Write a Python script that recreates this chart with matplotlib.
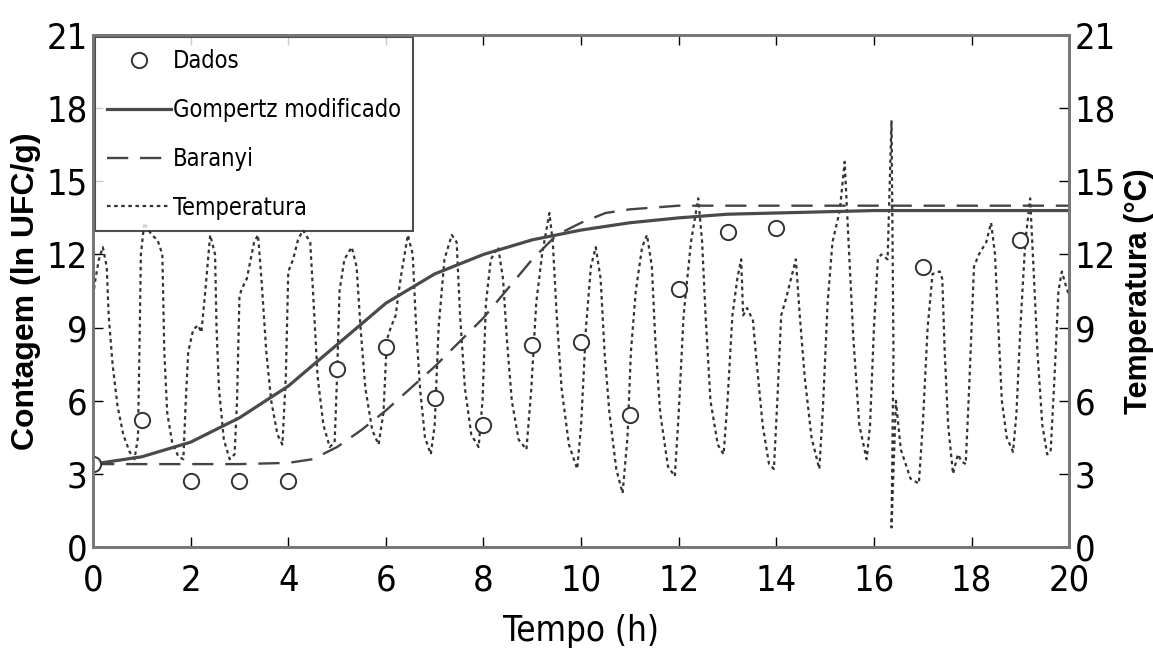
import numpy as np
import matplotlib
matplotlib.use("Agg")
import matplotlib.pyplot as plt

# Crescimento microbiano sob temperatura variável

# dados experimentais
t_dados = [0, 1, 2, 3, 4, 5, 6, 7, 8, 9, 10, 11, 12, 13, 14, 17, 19]
y_dados = [3.4, 5.2, 2.7, 2.7, 2.7, 7.3, 8.2, 6.1, 5.0, 8.3, 8.4, 5.4, 10.6, 12.9, 13.1, 11.5, 12.6]

# Gompertz modificado
t_gomp = [0, 1, 2, 3, 4, 5, 6, 7, 8, 9, 10, 11, 12, 13, 14, 15, 16, 17, 18, 19, 20]
y_gomp = [3.4, 3.7, 4.3, 5.3, 6.6, 8.3, 10.0, 11.2, 12.0, 12.6, 13.0, 13.3, 13.5, 13.65,
          13.7, 13.75, 13.8, 13.8, 13.8, 13.8, 13.8]

# Baranyi
t_bar = [0, 1, 2, 3, 4, 4.5, 5, 5.5, 6, 6.5, 7, 7.5, 8, 8.5, 9, 9.5, 10, 10.5, 11, 12,
         13, 14, 15, 16, 17, 18, 19, 20]
y_bar = [3.4, 3.4, 3.4, 3.4, 3.45, 3.6, 4.1, 4.8, 5.6, 6.5, 7.4, 8.4, 9.4, 10.6, 11.8,
         12.8, 13.3, 13.7, 13.85, 14.0, 14.0, 14.0, 14.0, 14.0, 14.0, 14.0, 14.0, 14.0]

# temperatura registrada
t_temp = [0.00, 0.05, 0.12, 0.20, 0.28, 0.32, 0.40, 0.50, 0.62, 0.75, 0.85, 0.92, 0.95, 0.98,
          1.05, 1.20, 1.32, 1.42, 1.46, 1.52, 1.62, 1.75, 1.85, 1.90, 1.95, 2.05, 2.15, 2.22,
          2.30, 2.40, 2.50, 2.53, 2.58, 2.68, 2.80, 2.90, 2.95, 3.00, 3.05, 3.15, 3.30, 3.38,
          3.45, 3.55, 3.65, 3.78, 3.88, 3.95, 4.00, 4.10, 4.20, 4.30, 4.45, 4.52, 4.60, 4.72,
          4.85, 4.95, 5.00, 5.05, 5.15, 5.30, 5.40, 5.48, 5.58, 5.72, 5.85, 5.95, 6.02, 6.10,
          6.20, 6.30, 6.45, 6.55, 6.62, 6.70, 6.80, 6.92, 7.00, 7.08, 7.20, 7.35, 7.45, 7.52,
          7.62, 7.75, 7.90, 7.98, 8.05, 8.15, 8.30, 8.40, 8.48, 8.58, 8.72, 8.88, 8.98, 9.08,
          9.20, 9.35, 9.42, 9.50, 9.60, 9.75, 9.92, 10.00, 10.10, 10.20, 10.30, 10.40, 10.48,
          10.58, 10.72, 10.85, 10.95, 11.02, 11.12, 11.25, 11.35, 11.45, 11.52, 11.62, 11.78,
          11.92, 12.00, 12.10, 12.25, 12.40, 12.48, 12.55, 12.65, 12.80, 12.92, 13.00, 13.10,
          13.20, 13.28, 13.32, 13.40, 13.52, 13.60, 13.72, 13.85, 13.95, 14.02, 14.10, 14.20,
          14.30, 14.40, 14.48, 14.58, 14.72, 14.88, 14.95, 15.05, 15.15, 15.30, 15.40, 15.48,
          15.58, 15.70, 15.85, 15.92, 16.00, 16.08, 16.15, 16.28, 16.36, 16.40, 16.36, 16.45,
          16.55, 16.75, 16.92, 17.00, 17.10, 17.20, 17.35, 17.40, 17.45, 17.52, 17.62, 17.72,
          17.80, 17.88, 17.95, 18.05, 18.15, 18.30, 18.40, 18.48, 18.55, 18.62, 18.72, 18.85,
          18.92, 19.00, 19.10, 19.20, 19.28, 19.35, 19.45, 19.55, 19.62, 19.70, 19.78, 19.85,
          19.92, 20.00]
T_temp = [10.3, 11.0, 11.8, 12.3, 11.5, 9.5, 7.5, 5.8, 4.6, 3.9, 3.6, 4.5, 8.0, 12.0,
          13.3, 12.8, 12.6, 12.0, 8.0, 5.5, 4.3, 3.7, 3.6, 6.0, 8.0, 8.9, 9.1, 8.8,
          10.5, 12.8, 12.0, 9.0, 6.5, 4.4, 3.6, 3.8, 6.0, 10.3, 10.6, 11.0, 12.5, 12.8,
          11.0, 8.0, 6.0, 4.6, 4.2, 7.0, 11.3, 11.8, 12.6, 13.0, 12.5, 10.0, 7.0, 5.0,
          4.1, 4.3, 7.0, 10.5, 11.8, 12.3, 11.5, 9.0, 6.5, 4.8, 4.2, 5.5, 8.5, 9.0,
          9.5, 11.0, 12.8, 12.0, 9.0, 6.5, 4.5, 3.8, 5.0, 9.0, 11.8, 12.8, 12.5, 9.5,
          6.5, 4.6, 4.1, 6.0, 10.0, 11.8, 12.3, 11.0, 8.5, 6.0, 4.4, 4.0, 6.5, 10.0,
          12.0, 13.7, 12.5, 9.5, 6.5, 4.2, 3.2, 5.0, 9.0, 11.5, 12.3, 11.0, 8.0,
          5.5, 3.2, 2.2, 4.5, 8.0, 10.5, 12.3, 12.8, 11.5, 8.5, 5.5, 3.3,
          2.9, 5.5, 9.5, 12.5, 14.3, 12.5, 9.5, 6.0, 4.2, 3.8, 6.0, 9.5,
          11.0, 11.8, 9.5, 9.8, 9.3, 7.5, 5.0, 3.4, 3.2, 6.0, 9.5, 10.2,
          11.0, 11.8, 9.5, 7.0, 4.5, 3.2, 5.5, 10.0, 12.5, 13.8, 15.8, 12.5,
          8.5, 5.0, 3.6, 5.0, 9.0, 11.8, 12.0, 11.8, 17.5, 8.0, 0.8, 6.0,
          4.0, 2.8, 2.6, 5.0, 9.0, 11.2, 11.3, 11.0, 8.0, 5.0, 3.0, 3.8,
          3.5, 3.4, 6.5, 11.5, 12.0, 12.5, 13.3, 12.0, 9.0, 6.0, 4.5, 3.9,
          5.5, 9.0, 12.5, 14.3, 11.0, 8.0, 5.0, 3.8, 3.9, 7.0, 10.5, 11.3,
          10.8, 10.3]

plt.rcParams['font.family'] = ['DejaVu Sans']
plt.rcParams['font.stretch'] = 'condensed'

fig = plt.figure(figsize=(11.53, 6.61), dpi=100)
ax = fig.add_axes([0.0807, 0.1725, 0.8466, 0.7745])

ax.plot(t_dados, y_dados, 'o', mfc='white', mec='#333333', ms=11, mew=1.4, label='Dados', zorder=5)
ax.plot(t_gomp, y_gomp, '-', color='#4a4a4a', lw=2.3, label='Gompertz modificado', zorder=4)
ax.plot(t_bar, y_bar, '--', color='#444444', lw=1.7, dashes=(9, 5), label='Baranyi', zorder=4)
ax.plot(t_temp, T_temp, color='#333333', lw=1.6, dashes=(1.6, 1.6), label='Temperatura', zorder=3)

ax.set_xlim(0, 20)
ax.set_ylim(0, 21)
ax.set_xticks(np.arange(0, 21, 2))
ax.set_yticks(np.arange(0, 22, 3))
ax.tick_params(direction='in', length=7, width=1, labelsize=26, top=True, pad=12)
ax.tick_params(axis='y', pad=4)
for s in ax.spines.values():
    s.set_color('#777777')
    s.set_linewidth(2)

ax2 = ax.twinx()
ax2.set_ylim(0, 21)
ax2.set_yticks(np.arange(0, 22, 3))
ax2.tick_params(direction='in', length=7, width=1, labelsize=26, pad=4)
for s in ax2.spines.values():
    s.set_color('#777777')
    s.set_linewidth(2)

ax.set_xlabel('Tempo (h)', fontsize=25, labelpad=12)
ax.set_ylabel('Contagem (ln UFC/g)', fontsize=23, fontweight='bold',
              family=['Liberation Sans', 'DejaVu Sans'], stretch='normal', labelpad=4)
ax2.set_ylabel('Temperatura (°C)', fontsize=22, fontweight='bold',
               family=['Liberation Sans', 'DejaVu Sans'], stretch='normal', labelpad=6)

leg = ax.legend(loc='upper left', bbox_to_anchor=(0.0, 1.0), fontsize=17, frameon=True,
                fancybox=False, edgecolor='#222222', borderaxespad=0.1, handlelength=2.7,
                handletextpad=0.1, labelspacing=1.05, borderpad=0.5)
leg.get_frame().set_linewidth(1.5)

fig.savefig('out.png', dpi=100)
